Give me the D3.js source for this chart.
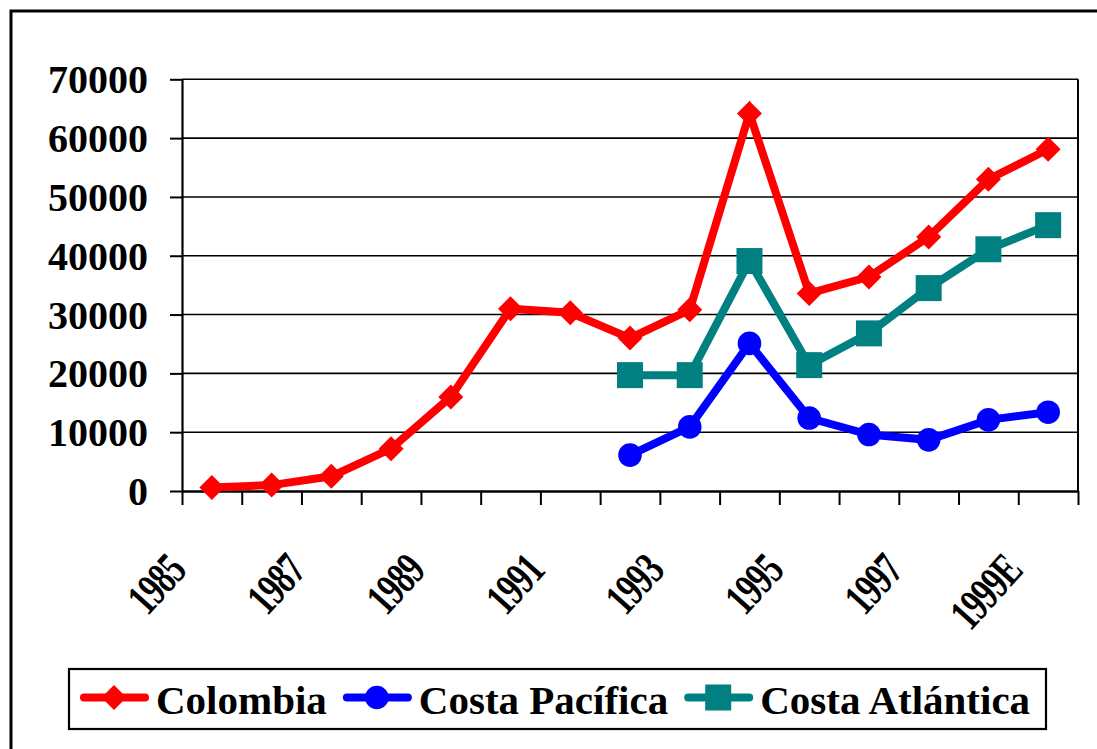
<!DOCTYPE html>
<html>
<head>
<meta charset="utf-8">
<script src="https://cdn.jsdelivr.net/npm/d3@7/dist/d3.min.js"></script>
<style>
  html, body { margin: 0; padding: 0; background: #fff; }
  svg { display: block; }
  text { font-family: "Liberation Serif", "Times New Roman", serif; font-weight: bold; fill: #000; }
</style>
</head>
<body>
<svg id="chart" width="1097" height="749"></svg>
<script>
// Years on the category axis (1999 is an estimate)
const categories = ["1985","1986","1987","1988","1989","1990","1991","1992",
                    "1993","1994","1995","1996","1997","1998","1999E"];
// Labels printed under the axis (every other year)
const tickLabels = ["1985","1987","1989","1991","1993","1995","1997","1999E"];
const yTicks = [0, 10000, 20000, 30000, 40000, 50000, 60000, 70000];

// Series values (null = no data for that year)
const colombia = [600, 1000, 2500, 7200, 16000, 31000, 30300, 26000,
                  30800, 64200, 33600, 36400, 43200, 53000, 58100];
const costaPacifica = [null, null, null, null, null, null, null, 6100,
                       10900, 25100, 12400, 9600, 8700, 12100, 13400];
const costaAtlantica = [null, null, null, null, null, null, null, 19700,
                        19700, 39100, 21400, 26800, 34500, 41100, 45200];

const seriesNames = ["Colombia", "Costa Pacífica", "Costa Atlántica"];
const seriesColors = ["#ff0000", "#0000ff", "#008080"];
const seriesMarkers = ["diamond", "circle", "square"];

const svg = d3.select("#chart");

// Outer frame (runs off the right and bottom edges)
svg.append("rect")
  .attr("x", 11).attr("y", 11).attr("width", 1110).attr("height", 760)
  .attr("fill", "none").attr("stroke", "#000").attr("stroke-width", 3);

const plot = { left: 182, right: 1078, top: 79.3, bottom: 491 };

const x = d3.scaleBand().domain(categories).range([plot.left, plot.right]).padding(0);
const xEdge = d3.scaleLinear().domain([0, categories.length]).range([plot.left, plot.right]);
const y = d3.scaleLinear().domain([0, 70000]).range([plot.bottom, plot.top]);
const cx = c => x(c) + x.bandwidth() / 2;

// Horizontal gridlines
svg.append("g")
  .selectAll("line").data(yTicks.filter(v => v > 0)).join("line")
  .attr("x1", plot.left).attr("x2", plot.right)
  .attr("y1", d => y(d)).attr("y2", d => y(d))
  .attr("stroke", "#000").attr("stroke-width", 1.6);

// Right border of the plot area
svg.append("line")
  .attr("x1", plot.right).attr("x2", plot.right)
  .attr("y1", plot.top).attr("y2", plot.bottom)
  .attr("stroke", "#000").attr("stroke-width", 2);

// Y axis
const yAxis = svg.append("g")
  .attr("transform", `translate(${plot.left},0)`)
  .call(d3.axisLeft(y).tickValues(yTicks).tickSize(12).tickSizeOuter(0).tickFormat(d3.format("d")));
yAxis.select(".domain").attr("stroke", "#000").attr("stroke-width", 2.2);
yAxis.selectAll(".tick line").attr("stroke", "#000").attr("stroke-width", 2);
yAxis.selectAll(".tick text")
  .attr("x", -34).attr("dy", "0.34em")
  .style("font-size", "40px").style("font-family", "'Liberation Serif', serif")
  .style("font-weight", "bold").attr("fill", "#000");

// X axis with ticks on category boundaries
const xAxis = svg.append("g")
  .attr("transform", `translate(0,${plot.bottom})`)
  .call(d3.axisBottom(xEdge).tickValues(d3.range(0, categories.length + 1))
        .tickSize(14).tickSizeOuter(0).tickFormat(""));
xAxis.select(".domain").attr("stroke", "#000").attr("stroke-width", 2.6);
xAxis.selectAll(".tick line").attr("stroke", "#000").attr("stroke-width", 2);

// Rotated year labels
svg.append("g")
  .selectAll("text").data(tickLabels).join("text")
  .attr("transform", d => `translate(${cx(d) - 24},${plot.bottom + 81}) rotate(-48) scale(0.7,1)`)
  .attr("text-anchor", "end")
  .style("font-size", "46px")
  .style("letter-spacing", "-1.5px")
  .text(d => d);

// Marker shapes
function markerPath(type, s) {
  if (type === "diamond") return `M0,${-s}L${s},0L0,${s}L${-s},0Z`;
  if (type === "square") return `M${-s},${-s}H${s}V${s}H${-s}Z`;
  return d3.symbol().type(d3.symbolCircle).size(Math.PI * s * s)();
}
const markerSize = { diamond: 12.5, circle: 11.8, square: 13 };

const allSeries = [colombia, costaPacifica, costaAtlantica];
const line = d3.line()
  .defined(d => d.v !== null)
  .x(d => cx(d.c))
  .y(d => y(d.v));

allSeries.forEach((vals, i) => {
  const pts = vals.map((v, j) => ({ c: categories[j], v }));
  const g = svg.append("g");
  g.append("path")
    .datum(pts)
    .attr("d", line)
    .attr("fill", "none")
    .attr("stroke", seriesColors[i])
    .attr("stroke-width", 8)
    .attr("stroke-linejoin", "miter");
  g.selectAll("path.m").data(pts.filter(d => d.v !== null)).join("path")
    .attr("class", "m")
    .attr("transform", d => `translate(${cx(d.c)},${y(d.v)})`)
    .attr("d", markerPath(seriesMarkers[i], markerSize[seriesMarkers[i]]))
    .attr("fill", seriesColors[i]);
});

// Legend
const legend = svg.append("g");
legend.append("rect")
  .attr("x", 69).attr("y", 669).attr("width", 977).attr("height", 60)
  .attr("fill", "#fff").attr("stroke", "#000").attr("stroke-width", 2.2);

let lx = 80;
const ly = 697.5;
seriesNames.forEach((name, i) => {
  legend.append("line")
    .attr("x1", lx + 4).attr("x2", lx + 65)
    .attr("y1", ly).attr("y2", ly)
    .attr("stroke", seriesColors[i]).attr("stroke-width", 8)
    .attr("stroke-linecap", "round");
  legend.append("path")
    .attr("transform", `translate(${lx + 34},${ly})`)
    .attr("d", markerPath(seriesMarkers[i], markerSize[seriesMarkers[i]]))
    .attr("fill", seriesColors[i]);
  const t = legend.append("text")
    .attr("x", lx + 76).attr("y", 714)
    .style("font-size", "41px")
    .text(name);
  lx = lx + 76 + t.node().getComputedTextLength() + 16;
});
</script>
</body>
</html>
